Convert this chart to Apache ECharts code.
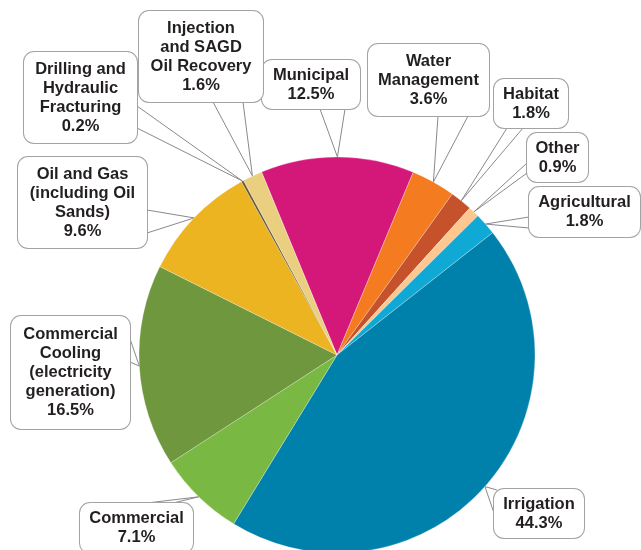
<!DOCTYPE html>
<html><head><meta charset="utf-8">
<script src="https://cdn.jsdelivr.net/npm/echarts@6/dist/echarts.min.js"></script>
<style>html,body{margin:0;padding:0;background:#fff}#c{width:641px;height:550px}</style>
</head><body><div id="c"></div>
<script>
// ---- data ----
const categories = [
  'Municipal',
  'Water\nManagement',
  'Habitat',
  'Other',
  'Agricultural',
  'Irrigation',
  'Commercial',
  'Commercial\nCooling\n(electricity\ngeneration)',
  'Oil and Gas\n(including Oil\nSands)',
  'Drilling and\nHydraulic\nFracturing',
  'Injection\nand SAGD\nOil Recovery'
];
const values = [12.5, 3.6, 1.8, 0.9, 1.8, 44.3, 7.1, 16.5, 9.6, 0.2, 1.6];

// ---- style / layout (not data) ----
const colors = ['#d4187a', '#f47b20', '#c5522a', '#fdc78f', '#10a8d4', '#0081ab',
                '#79b943', '#6f973d', '#ebb420', '#6b5a32', '#ebcf80'];
// label boxes [x, y, w, h]
const boxes = [
  [262, 60, 98, 49],
  [368, 44, 121, 72],
  [494, 79, 74, 49],
  [527, 133, 61, 49],
  [529, 187, 111, 50],
  [494, 489, 90, 49],
  [80, 503, 113, 50],
  [11, 316, 119, 113],
  [18, 157, 129, 91],
  [24, 52, 113, 91],
  [139, 11, 124, 91]
];
// callout tail base points, relative to the box top-left
const tails = [
  [[58, 49], [83, 49]],
  [[70, 72], [100, 72]],
  [[13, 49], [29, 49]],
  [[0, 30], [0, 40]],
  [[0, 30], [0, 41]],
  [[3, 1], [0, 24]],
  [[67, 0], [93, 0]],
  [[114, 8], [119, 46]],
  [[129, 53], [129, 76]],
  [[113, 54], [113, 76]],
  [[74, 91], [104, 91]]
];

const LH = 19;
const chart = echarts.init(document.getElementById('c'), null, {renderer: 'canvas'});
const data = categories.map((name, i) => {
  const lines = name.split('\n').length + 1;
  const [x, y, w, h] = boxes[i];
  const extra = Math.max(0, h - lines * LH);
  const pt = Math.floor(extra / 2);
  return {
    name: name,
    value: values[i],
    itemStyle: {color: colors[i]},
    label: {width: w, padding: [pt, 0, extra - pt, 0]}
  };
});

const option = {
  animation: false,
  backgroundColor: '#fff',
  series: [{
    type: 'pie',
    center: [337, 355],
    radius: 198,
    startAngle: 112.4,
    clockwise: true,
    avoidLabelOverlap: false,
    data: data,
    itemStyle: {borderColor: 'rgba(255,255,255,0.45)', borderWidth: 0.6},
    label: {
      show: true,
      position: 'outside',
      formatter: p => p.name + '\n' + p.value.toFixed(1) + '%',
      fontFamily: 'Liberation Sans, Arial, sans-serif',
      fontWeight: 'bold',
      fontSize: 16.5,
      lineHeight: LH,
      color: '#231f20',
      backgroundColor: '#fff',
      borderColor: '#a3a3a3',
      borderWidth: 1,
      borderRadius: 10,
      align: 'center',
      overflow: 'none'
    },
    labelLine: {show: true, smooth: false, lineStyle: {color: '#8a8a8a', width: 1}},
    labelLayout: function (params) {
      const i = params.dataIndex;
      const [x, y, w, h] = boxes[i];
      const t = tails[i];
      const res = {x: x + w / 2, y: y + h / 2, align: 'center', verticalAlign: 'middle'};
      const pts = params.labelLinePoints;
      if (pts && pts.length) {
        const tip = pts[0];
        res.labelLinePoints = [[x + t[0][0], y + t[0][1]], [tip[0], tip[1]], [x + t[1][0], y + t[1][1]]];
      }
      return res;
    }
  }]
};
chart.setOption(option);
</script>
</body></html>
